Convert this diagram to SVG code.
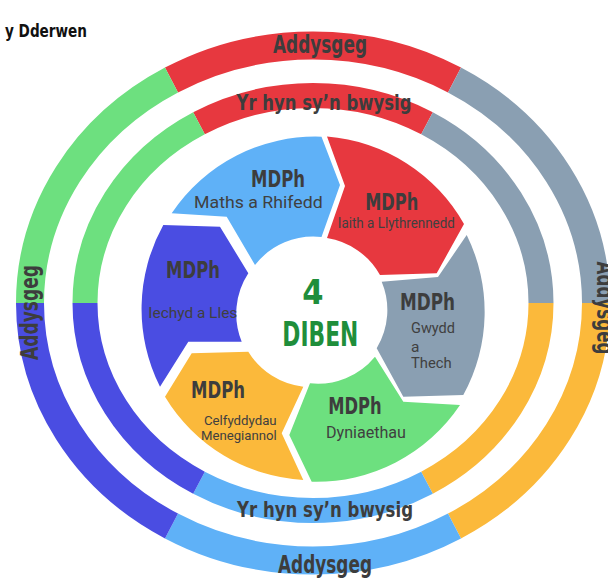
<svg xmlns="http://www.w3.org/2000/svg" width="608" height="579" viewBox="0 0 608 579">
<style>
.ro{fill:none;stroke-width:28}
.rm{fill:none;stroke-width:25}
.red{stroke:#E7383F}.gry{stroke:#8A9FB2}.yel{stroke:#FBB93B}.blu{stroke:#5FB1F7}.ind{stroke:#4A4DE2}.grn{stroke:#6DE07F}
.cond{font-family:'Liberation Sans Narrow','DejaVu Sans Condensed','Roboto Condensed','Liberation Sans',sans-serif;font-stretch:condensed;font-weight:bold;fill:#3d3d3d}
.ring{font-size:24px}
.mdph{font-size:23px;text-anchor:middle}
.body{font-family:Roboto,'Liberation Sans',sans-serif;fill:#404040}
.mid{text-anchor:middle}
.dib{font-size:34px;fill:#1F8E3B;text-anchor:middle}
</style>
<rect width="608" height="579" fill="#ffffff"/>
<text class="cond" x="5" y="37" font-size="17" fill="#111" textLength="82" lengthAdjust="spacingAndGlyphs" style="fill:#111">y Dderwen</text>
<g id="ring-outer">
<path class="ro red" d="M171.5,80 A283,257.5 0 0 1 454.5,80"/>
<path class="ro gry" d="M454.5,80 A283,257.5 0 0 1 596,303"/>
<path class="ro yel" d="M596,303 A283,257.5 0 0 1 454.5,526"/>
<path class="ro blu" d="M454.5,526 A283,257.5 0 0 1 171.5,526"/>
<path class="ro ind" d="M171.5,526 A283,257.5 0 0 1 30,303"/>
<path class="ro grn" d="M30,303 A283,257.5 0 0 1 171.5,80"/>
<text class="cond ring mid" x="320" y="53" textLength="94" lengthAdjust="spacingAndGlyphs">Addysgeg</text>
<text class="cond ring mid" x="325" y="573" textLength="94" lengthAdjust="spacingAndGlyphs">Addysgeg</text>
<text class="cond ring mid" transform="translate(38,312.5) rotate(-90)" textLength="95" lengthAdjust="spacingAndGlyphs">Addysgeg</text>
<text class="cond ring mid" transform="translate(597,308) rotate(90)" textLength="93" lengthAdjust="spacingAndGlyphs">Addysgeg</text>
</g>
<g id="ring-middle">
<path class="rm red" d="M199,123.3 A228,207.5 0 0 1 427,123.3"/>
<path class="rm gry" d="M427,123.3 A228,207.5 0 0 1 541,303"/>
<path class="rm yel" d="M541,303 A228,207.5 0 0 1 427,482.7"/>
<path class="rm blu" d="M427,482.7 A228,207.5 0 0 1 199,482.7"/>
<path class="rm ind" d="M199,482.7 A228,207.5 0 0 1 85,303"/>
<path class="rm grn" d="M85,303 A228,207.5 0 0 1 199,123.3"/>
<text class="cond mid" x="324" y="110" font-size="22" textLength="175" lengthAdjust="spacingAndGlyphs">Yr hyn sy’n bwysig</text>
<text class="cond mid" x="325" y="517" font-size="22" textLength="176" lengthAdjust="spacingAndGlyphs">Yr hyn sy’n bwysig</text>
</g>
<g id="maths">
<path fill="#5FB1F7" d="M171.7,213.3 A173,173 0 0 1 321.5,136.7 L340,185 L321.5,237 A74,74 0 0 0 255,265 L226.7,216.7 Z"/>
<text class="cond mdph" x="278" y="186.5" textLength="54" lengthAdjust="spacingAndGlyphs">MDPh</text>
<text class="body mid" x="258.4" y="208.3" font-size="17" textLength="128.7" lengthAdjust="spacingAndGlyphs">Maths a Rhifedd</text>
</g>
<g id="iaith">
<path fill="#E7383F" d="M327,136.5 A173,173 0 0 1 464,224 L436.7,273.3 L380,275 A74,74 0 0 0 327,238 L345,186 Z"/>
<text class="cond mdph" x="391.7" y="210" textLength="53" lengthAdjust="spacingAndGlyphs">MDPh</text>
<text class="body mid" x="396.3" y="228.3" font-size="14" textLength="117" lengthAdjust="spacingAndGlyphs">Iaith a Llythrennedd</text>
</g>
<g id="gwydd">
<path fill="#8A9FB2" d="M466.7,235 A173,173 0 0 1 463.3,395 L403.3,396.7 L376.7,348.3 A74,74 0 0 0 381.7,281.7 L438,277 Z"/>
<text class="cond mdph" x="427.5" y="310" textLength="55" lengthAdjust="spacingAndGlyphs">MDPh</text>
<text class="body" x="411" y="333.3" font-size="15.5" textLength="44" lengthAdjust="spacingAndGlyphs">Gwydd</text>
<text class="body" x="411" y="351.7" font-size="15.5">a</text>
<text class="body" x="411" y="368.3" font-size="15.5" textLength="40.7" lengthAdjust="spacingAndGlyphs">Thech</text>
</g>
<g id="dyniaethau">
<path fill="#6DE07F" d="M460,405 A173,173 0 0 1 311.7,481.7 L289.3,435 L310,383.3 A74,74 0 0 0 375,356.7 L403.3,401.7 Z"/>
<text class="cond mdph" x="355" y="414.3" textLength="53.4" lengthAdjust="spacingAndGlyphs">MDPh</text>
<text class="body mid" x="366" y="438.3" font-size="16" textLength="80" lengthAdjust="spacingAndGlyphs">Dyniaethau</text>
</g>
<g id="celfyddydau">
<path fill="#FBB93B" d="M303.3,480 A173,173 0 0 1 165,396.7 L191.7,353.3 L248.3,351.7 A74,74 0 0 0 303.3,386.7 L281.7,433.3 Z"/>
<text class="cond mdph" x="218" y="398.3" textLength="54" lengthAdjust="spacingAndGlyphs">MDPh</text>
<text class="body mid" x="240.3" y="425" font-size="13.5" textLength="72.7" lengthAdjust="spacingAndGlyphs">Celfyddydau</text>
<text class="body mid" x="238.8" y="440" font-size="13.5" textLength="75.7" lengthAdjust="spacingAndGlyphs">Menegiannol</text>
</g>
<g id="iechyd">
<path fill="#4A4DE2" d="M160,386.7 A173,173 0 0 1 163.3,225 L220,226.7 L248.3,273.3 A74,74 0 0 0 241.7,341.7 L188.3,341.7 Z"/>
<text class="cond mdph" x="193" y="278.3" textLength="54" lengthAdjust="spacingAndGlyphs">MDPh</text>
<text class="body mid" x="192.8" y="318.3" font-size="14.5" textLength="89" lengthAdjust="spacingAndGlyphs">Iechyd a Lles</text>
</g>
<g id="diben">
<text class="cond dib" x="313" y="304.3">4</text>
<text class="cond dib" x="320.3" y="346" textLength="76" lengthAdjust="spacingAndGlyphs">DIBEN</text>
</g>
</svg>
